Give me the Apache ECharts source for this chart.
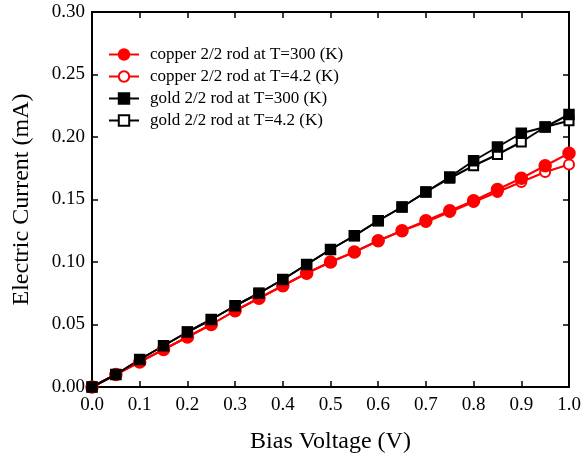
<!DOCTYPE html>
<html style="height: 100%">
<head>
<meta charset="utf-8">
<script src="https://cdn.jsdelivr.net/npm/echarts@6/dist/echarts.min.js"></script>
</head>
<body style="height: 100%; margin: 0; background: #fff">
<div id="container" style="width: 581px; height: 459px"></div>
<script type="text/javascript">
// bias voltage (V)
var voltage = [0, 0.05, 0.1, 0.15, 0.2, 0.25, 0.3, 0.35, 0.4, 0.45, 0.5,
               0.55, 0.6, 0.65, 0.7, 0.75, 0.8, 0.85, 0.9, 0.95, 1.0];
// current (mA)
var copper300 = [0, 0.010, 0.020, 0.030, 0.040, 0.050, 0.061, 0.071, 0.081, 0.091, 0.100,
                 0.108, 0.117, 0.125, 0.133, 0.141, 0.149, 0.158, 0.167, 0.177, 0.187];
var copper42  = [0, 0.010, 0.020, 0.030, 0.040, 0.050, 0.061, 0.071, 0.081, 0.091, 0.100,
                 0.108, 0.117, 0.125, 0.132, 0.140, 0.148, 0.156, 0.164, 0.172, 0.178];
var gold300   = [0, 0.010, 0.022, 0.033, 0.044, 0.054, 0.065, 0.075, 0.086, 0.098, 0.110,
                 0.121, 0.133, 0.144, 0.156, 0.168, 0.181, 0.192, 0.203, 0.208, 0.218];
var gold42    = [0, 0.010, 0.022, 0.033, 0.044, 0.054, 0.065, 0.075, 0.086, 0.098, 0.110,
                 0.121, 0.133, 0.144, 0.156, 0.167, 0.177, 0.186, 0.196, 0.208, 0.213];
var seriesNames = ['copper 2/2 rod at T=300 (K)', 'copper 2/2 rod at T=4.2 (K)',
                   'gold 2/2 rod at T=300 (K)', 'gold 2/2 rod at T=4.2 (K)'];

var font = 'Liberation Serif';

function pairs(ys) {
    return voltage.map(function (v, i) { return [v, ys[i]]; });
}

function makeSeries(name, ys, symbol, color, size, z) {
    return {
        name: name,
        type: 'line',
        data: pairs(ys),
        symbol: symbol,
        symbolSize: size,
        showAllSymbol: true,
        z: z,
        lineStyle: { color: color, width: 2 },
        itemStyle: { color: color, borderColor: color, borderWidth: 1.5 },
        xAxisIndex: 0,
        yAxisIndex: 0
    };
}

var myChart = echarts.init(document.getElementById('container'));

var axisLineStyle = { show: true, onZero: false, lineStyle: { color: '#000', width: 2 } };
var tickStyle = { show: true, inside: true, length: 6, lineStyle: { color: '#000', width: 1.5 } };

var option = {
    animation: false,
    textStyle: { fontFamily: font },
    grid: { left: 92, right: 12, top: 12, bottom: 72, containLabel: false, outerBoundsMode: 'none' },
    legend: {
        data: seriesNames,
        orient: 'vertical',
        left: 103,
        top: 41,
        itemWidth: 30,
        itemHeight: 13,
        itemGap: 5,
        textStyle: { fontFamily: font, fontSize: 17, color: '#000', padding: [0, 0, 0, 6] }
    },
    xAxis: [{
        type: 'value',
        min: 0, max: 1, interval: 0.1,
        name: 'Bias Voltage (V)',
        nameLocation: 'middle',
        nameGap: 43,
        nameTextStyle: { fontFamily: font, fontSize: 24, color: '#000' },
        axisLine: axisLineStyle,
        axisTick: tickStyle,
        splitLine: { show: false },
        axisLabel: {
            color: '#000', fontFamily: font, fontSize: 19, margin: 9,
            formatter: function (v) { return v.toFixed(1); }
        }
    }, {
        type: 'value',
        position: 'top',
        min: 0, max: 1, interval: 0.1,
        axisLine: axisLineStyle,
        axisTick: tickStyle,
        axisLabel: { show: false },
        splitLine: { show: false }
    }],
    yAxis: [{
        type: 'value',
        min: 0, max: 0.3, interval: 0.05,
        name: 'Electric Current (mA)',
        nameLocation: 'middle',
        nameGap: 58,
        nameTextStyle: { fontFamily: font, fontSize: 24, color: '#000' },
        axisLine: axisLineStyle,
        axisTick: tickStyle,
        splitLine: { show: false },
        axisLabel: {
            color: '#000', fontFamily: font, fontSize: 19, margin: 7,
            formatter: function (v) { return v.toFixed(2); }
        }
    }, {
        type: 'value',
        position: 'right',
        min: 0, max: 0.3, interval: 0.05,
        axisLine: axisLineStyle,
        axisTick: tickStyle,
        axisLabel: { show: false },
        splitLine: { show: false }
    }],
    series: [
        makeSeries(seriesNames[0], copper300, 'circle', '#ff0000', 12, 4),
        makeSeries(seriesNames[1], copper42, 'emptyCircle', '#ff0000', 10, 3),
        makeSeries(seriesNames[2], gold300, 'rect', '#000000', 10, 4),
        makeSeries(seriesNames[3], gold42, 'emptyRect', '#000000', 9, 3)
    ]
};

myChart.setOption(option);
</script>
</body>
</html>
